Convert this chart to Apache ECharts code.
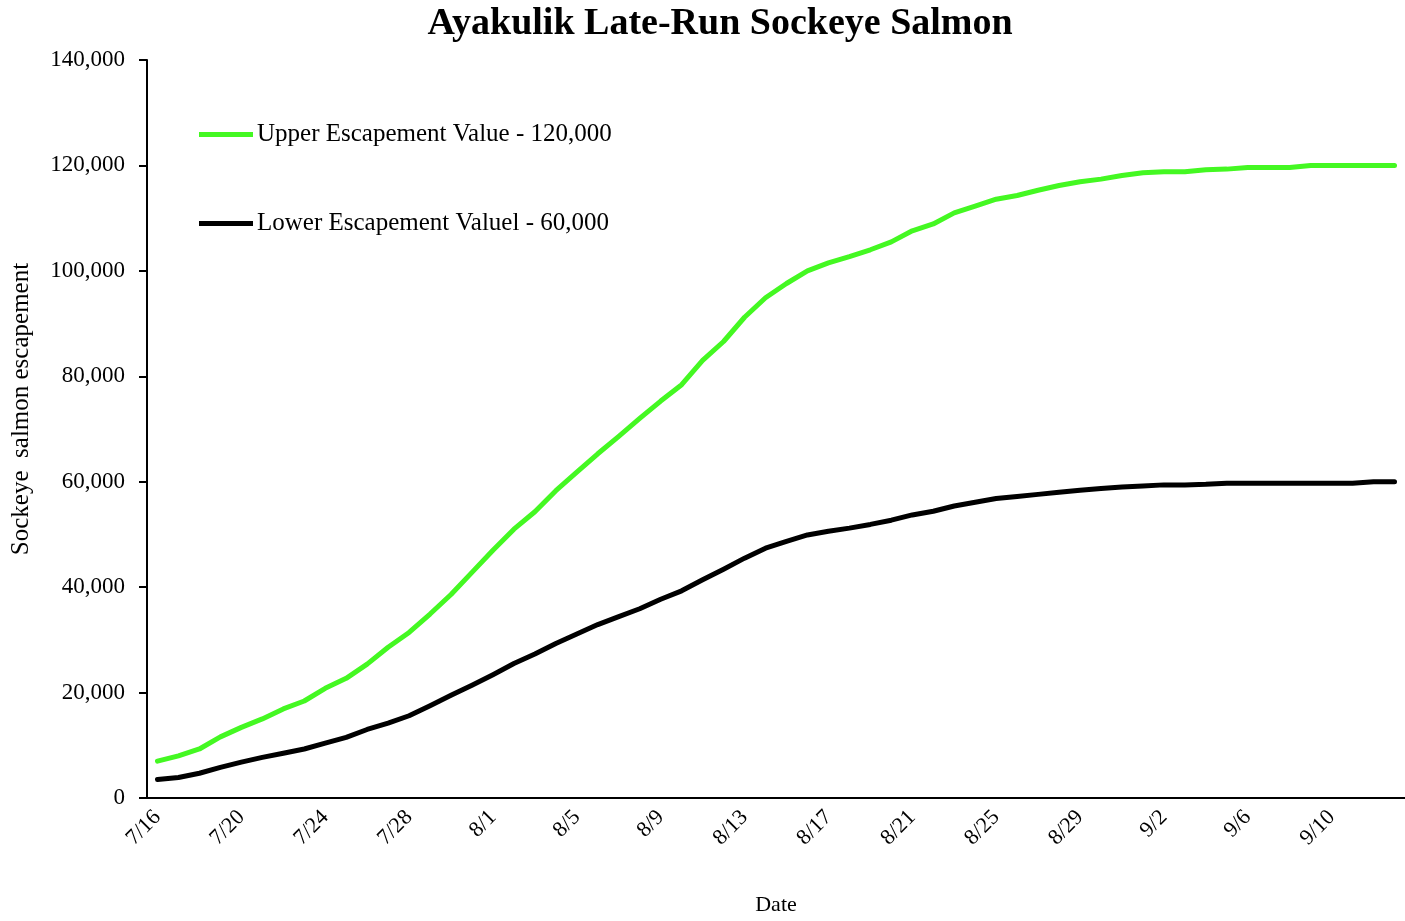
<!DOCTYPE html>
<html>
<head>
<meta charset="utf-8">
<script src="https://cdn.jsdelivr.net/npm/echarts@6/dist/echarts.min.js"></script>
<style>
html,body{margin:0;padding:0;background:#fff;overflow:hidden;}
#chart{width:1405px;height:921px;}
</style>
</head>
<body>
<div id="chart"></div>
<script>
const dates = ["7/16","7/17","7/18","7/19","7/20","7/21","7/22","7/23","7/24","7/25","7/26","7/27","7/28","7/29","7/30","7/31",
"8/1","8/2","8/3","8/4","8/5","8/6","8/7","8/8","8/9","8/10","8/11","8/12","8/13","8/14","8/15","8/16","8/17","8/18","8/19","8/20",
"8/21","8/22","8/23","8/24","8/25","8/26","8/27","8/28","8/29","8/30","8/31","9/1","9/2","9/3","9/4","9/5","9/6","9/7","9/8","9/9",
"9/10","9/11","9/12","9/13"];

const upperValues = [7000,8000,9300,11600,13400,15000,16900,18400,20800,22700,25400,28600,31400,34900,38600,
42800,47000,51000,54300,58300,61800,65300,68600,72000,75300,78400,83000,86600,91200,94900,97600,
100000,101500,102700,104000,105500,107600,108900,111000,112300,113600,114300,115300,116200,116900,
117400,118100,118600,118800,118800,119200,119300,119600,119600,119600,120000,120000,120000,120000,120000];

const lowerValues = [3500,3900,4700,5800,6800,7700,8500,9300,10400,11500,13000,14200,15600,17500,19500,
21400,23400,25500,27300,29300,31100,32900,34400,35900,37700,39300,41400,43400,45500,47400,48700,
49900,50600,51200,51900,52700,53700,54400,55400,56100,56800,57200,57600,58000,58400,
58700,59000,59200,59400,59400,59500,59700,59700,59700,59700,59700,59700,59700,60000,60000];

const yTicks = {min:0, max:140000, interval:20000};

const chart = echarts.init(document.getElementById('chart'), null, {renderer:'canvas'});
const serif = '"Liberation Serif", "Times New Roman", serif';
chart.setOption({
  backgroundColor:'#fff',
  animation:false,
  title:{
    text:'Ayakulik Late-Run Sockeye Salmon',
    left:715, top:0, textAlign:'center',
    textStyle:{fontFamily:serif, fontWeight:'bold', fontSize:38, color:'#000'}
  },
  legend:{
    orient:'vertical', left:194, top:117,
    itemWidth:54, itemHeight:5, itemGap:64,
    icon:'rect',
    textStyle:{fontFamily:serif, fontSize:25, color:'#000', padding:[0,0,0,-1]},
    data:['Upper Escapement Value - 120,000','Lower Escapement Valuel - 60,000']
  },
  grid:{left:147, top:60, bottom:114, right:-8, containLabel:false},
  xAxis:{
    type:'category',
    data:dates,
    boundaryGap:true,
    name:'Date',
    nameLocation:'middle',
    nameGap:96,
    nameTextStyle:{fontFamily:serif, fontSize:22, color:'#000'},
    axisLine:{lineStyle:{color:'#000', width:2}},
    axisTick:{interval:3, length:8, lineStyle:{color:'#000', width:2}},
    axisLabel:{interval:3, rotate:45, margin:16, fontFamily:serif, fontSize:22, color:'#000'},
    splitLine:{show:false}
  },
  yAxis:{
    type:'value',
    min:yTicks.min, max:yTicks.max, interval:yTicks.interval,
    name:'Sockeye  salmon escapement',
    nameLocation:'middle',
    nameGap:113,
    nameTextStyle:{fontFamily:serif, fontSize:25, color:'#000', padding:[0,0,0,40]},
    axisLine:{show:true, lineStyle:{color:'#000', width:2}},
    axisTick:{show:true, length:8, lineStyle:{color:'#000', width:2}},
    axisLabel:{margin:22, fontFamily:serif, fontSize:23, color:'#000',
      formatter:v=>v.toLocaleString('en-US')},
    splitLine:{show:false}
  },
  series:[
    {name:'Upper Escapement Value - 120,000', type:'line', data:upperValues, showSymbol:false, symbol:'none',
     lineStyle:{color:'#44F822', width:5, cap:'round', join:'round'}, itemStyle:{color:'#44F822'}},
    {name:'Lower Escapement Valuel - 60,000', type:'line', data:lowerValues, showSymbol:false, symbol:'none',
     lineStyle:{color:'#000', width:5, cap:'round', join:'round'}, itemStyle:{color:'#000'}}
  ]
});
</script>
</body>
</html>
